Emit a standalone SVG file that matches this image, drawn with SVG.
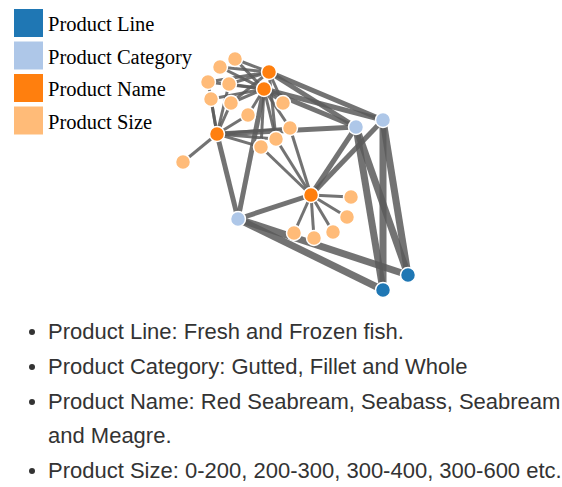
<svg xmlns="http://www.w3.org/2000/svg" width="562" height="487" viewBox="0 0 562 487">
<style>
.lt{font-family:"Liberation Serif","Times New Roman",serif;font-size:20.5px;fill:#000}
.bt{font-family:"Liberation Sans",Arial,sans-serif;font-size:22px;fill:#333}
.e line{stroke:#5a5a5a;stroke-opacity:0.85;stroke-linecap:butt}
.s{stroke-width:3}
.m{stroke-width:5}
.w{stroke-width:7}
circle.n{stroke:#fff;stroke-width:1.5}
.pl{fill:#1f77b4}.pc{fill:#aec7e8}.pn{fill:#ff7f0e}.ps{fill:#ffbb78}
</style>
<rect width="562" height="487" fill="#fff"/>
<g id="legend">
<rect x="14" y="9" width="29" height="28" class="pl"/>
<rect x="14" y="41.5" width="29" height="28" class="pc"/>
<rect x="14" y="74" width="29" height="28" class="pn"/>
<rect x="14" y="106.5" width="29" height="28" class="ps"/>
<text class="lt" x="48" y="31">Product Line</text>
<text class="lt" x="48" y="63.5">Product Category</text>
<text class="lt" x="48" y="96">Product Name</text>
<text class="lt" x="48" y="128.5">Product Size</text>
</g>
<g id="connectors" class="e">
<line class="w" x1="356" y1="127" x2="383" y2="290"/>
<line class="w" x1="356" y1="127" x2="408" y2="275"/>
<line class="w" x1="383" y1="120" x2="383" y2="290"/>
<line class="w" x1="383" y1="120" x2="408" y2="275"/>
<line class="w" x1="238" y1="219" x2="383" y2="290"/>
<line class="w" x1="238" y1="219" x2="408" y2="275"/>
<line class="m" x1="269" y1="72" x2="356" y2="127"/>
<line class="m" x1="269" y1="72" x2="383" y2="120"/>
<line class="m" x1="264" y1="89" x2="356" y2="127"/>
<line class="m" x1="264" y1="89" x2="383" y2="120"/>
<line class="m" x1="217" y1="134" x2="356" y2="127"/>
<line class="m" x1="217" y1="134" x2="238" y2="219"/>
<line class="m" x1="264" y1="89" x2="238" y2="219"/>
<line class="m" x1="311" y1="195" x2="238" y2="219"/>
<line class="m" x1="311" y1="195" x2="356" y2="127"/>
<line class="m" x1="311" y1="195" x2="383" y2="120"/>
<line class="s" x1="235" y1="59" x2="269" y2="72"/>
<line class="s" x1="235" y1="59" x2="264" y2="89"/>
<line class="s" x1="220" y1="67" x2="269" y2="72"/>
<line class="s" x1="220" y1="67" x2="264" y2="89"/>
<line class="s" x1="208" y1="82" x2="269" y2="72"/>
<line class="s" x1="208" y1="82" x2="264" y2="89"/>
<line class="s" x1="229" y1="84" x2="269" y2="72"/>
<line class="s" x1="229" y1="84" x2="264" y2="89"/>
<line class="s" x1="211" y1="99" x2="264" y2="89"/>
<line class="s" x1="231" y1="103" x2="269" y2="72"/>
<line class="s" x1="231" y1="103" x2="264" y2="89"/>
<line class="s" x1="248" y1="115" x2="264" y2="89"/>
<line class="s" x1="283" y1="103" x2="269" y2="72"/>
<line class="s" x1="283" y1="103" x2="264" y2="89"/>
<line class="s" x1="208" y1="82" x2="217" y2="134"/>
<line class="s" x1="229" y1="84" x2="217" y2="134"/>
<line class="s" x1="211" y1="99" x2="217" y2="134"/>
<line class="s" x1="231" y1="103" x2="217" y2="134"/>
<line class="s" x1="248" y1="115" x2="217" y2="134"/>
<line class="s" x1="183" y1="162" x2="217" y2="134"/>
<line class="s" x1="290" y1="128" x2="217" y2="134"/>
<line class="s" x1="276" y1="139" x2="217" y2="134"/>
<line class="s" x1="261" y1="147" x2="217" y2="134"/>
<line class="s" x1="290" y1="128" x2="264" y2="89"/>
<line class="s" x1="276" y1="139" x2="264" y2="89"/>
<line class="s" x1="261" y1="147" x2="264" y2="89"/>
<line class="s" x1="276" y1="139" x2="269" y2="72"/>
<line class="s" x1="290" y1="128" x2="311" y2="195"/>
<line class="s" x1="276" y1="139" x2="311" y2="195"/>
<line class="s" x1="261" y1="147" x2="311" y2="195"/>
<line class="s" x1="351" y1="197" x2="311" y2="195"/>
<line class="s" x1="347" y1="217" x2="311" y2="195"/>
<line class="s" x1="333" y1="232" x2="311" y2="195"/>
<line class="s" x1="314" y1="238" x2="311" y2="195"/>
<line class="s" x1="294" y1="233" x2="311" y2="195"/>
</g>
<g id="nodes">
<g id="line-1"><circle class="n pl" cx="383" cy="290" r="7.5"/></g>
<g id="line-2"><circle class="n pl" cx="408" cy="275" r="7.5"/></g>
<g id="cat-1"><circle class="n pc" cx="356" cy="127" r="7.5"/></g>
<g id="cat-2"><circle class="n pc" cx="383" cy="120" r="7.5"/></g>
<g id="cat-3"><circle class="n pc" cx="238" cy="219" r="7.5"/></g>
<g id="name-1"><circle class="n pn" cx="269" cy="72" r="7.5"/></g>
<g id="name-2"><circle class="n pn" cx="264" cy="89" r="7.5"/></g>
<g id="name-3"><circle class="n pn" cx="217" cy="134" r="7.5"/></g>
<g id="name-4"><circle class="n pn" cx="311" cy="195" r="7.5"/></g>
<g id="size-1"><circle class="n ps" cx="235" cy="59" r="7.5"/></g>
<g id="size-2"><circle class="n ps" cx="220" cy="67" r="7.5"/></g>
<g id="size-3"><circle class="n ps" cx="208" cy="82" r="7.5"/></g>
<g id="size-4"><circle class="n ps" cx="229" cy="84" r="7.5"/></g>
<g id="size-5"><circle class="n ps" cx="211" cy="99" r="7.5"/></g>
<g id="size-6"><circle class="n ps" cx="231" cy="103" r="7.5"/></g>
<g id="size-7"><circle class="n ps" cx="248" cy="115" r="7.5"/></g>
<g id="size-8"><circle class="n ps" cx="283" cy="103" r="7.5"/></g>
<g id="size-9"><circle class="n ps" cx="290" cy="128" r="7.5"/></g>
<g id="size-10"><circle class="n ps" cx="276" cy="139" r="7.5"/></g>
<g id="size-11"><circle class="n ps" cx="261" cy="147" r="7.5"/></g>
<g id="size-12"><circle class="n ps" cx="183" cy="162" r="7.5"/></g>
<g id="size-13"><circle class="n ps" cx="351" cy="197" r="7.5"/></g>
<g id="size-14"><circle class="n ps" cx="347" cy="217" r="7.5"/></g>
<g id="size-15"><circle class="n ps" cx="333" cy="232" r="7.5"/></g>
<g id="size-16"><circle class="n ps" cx="314" cy="238" r="7.5"/></g>
<g id="size-17"><circle class="n ps" cx="294" cy="233" r="7.5"/></g>
</g>
<g id="list">
<circle cx="32" cy="332" r="3" fill="#333"/>
<circle cx="32" cy="367" r="3" fill="#333"/>
<circle cx="32" cy="402" r="3" fill="#333"/>
<circle cx="32" cy="471" r="3" fill="#333"/>
<text class="bt" x="48" y="338.5">Product Line: Fresh and Frozen fish.</text>
<text class="bt" x="48" y="373.5">Product Category: Gutted, Fillet and Whole</text>
<text class="bt" x="48" y="408.5">Product Name: Red Seabream, Seabass, Seabream</text>
<text class="bt" x="48" y="442.5">and Meagre.</text>
<text class="bt" x="48" y="477.5">Product Size: 0-200, 200-300, 300-400, 300-600 etc.</text>
</g>
</svg>
